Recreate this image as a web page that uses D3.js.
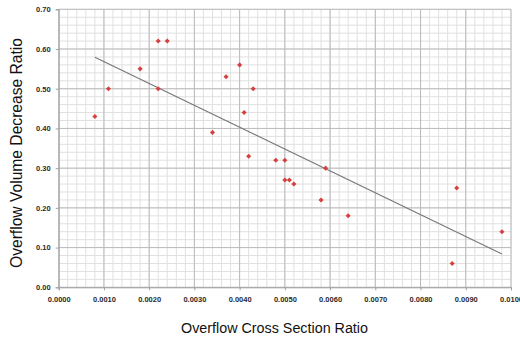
<!DOCTYPE html>
<html><head><meta charset="utf-8">
<script src="https://cdn.jsdelivr.net/npm/d3@7/dist/d3.min.js"></script>
<style>html,body{margin:0;padding:0;background:#fff;}svg{display:block;}</style>
</head><body>
<script>
const xValues = [0.0008,0.0011,0.0018,0.0022,0.0024,0.0022,0.0034,0.0037,0.0040,0.0043,0.0041,0.0042,0.0048,0.0050,0.0050,0.0051,0.0052,0.0059,0.0058,0.0064,0.0088,0.0087,0.0098];
const yValues = [0.43,0.50,0.55,0.62,0.62,0.50,0.39,0.53,0.56,0.50,0.44,0.33,0.32,0.32,0.27,0.27,0.26,0.30,0.22,0.18,0.25,0.06,0.14];
const trendX = [0.0008, 0.0098];
const trendY = [0.579, 0.084];
const xTicks = [0,0.001,0.002,0.003,0.004,0.005,0.006,0.007,0.008,0.009,0.010];
const yTicks = [0,0.1,0.2,0.3,0.4,0.5,0.6,0.7];
const xTitle = "Overflow Cross Section Ratio";
const yTitle = "Overflow Volume Decrease Ratio";

const W = 520, H = 339;
const svg = d3.select("body").append("svg").attr("width", W).attr("height", H);
const x = d3.scaleLinear().domain([0, 0.010]).range([58.7, 511]);
const y = d3.scaleLinear().domain([0, 0.70]).range([287.3, 9.3]);

const minorX = d3.range(0, 51).map(i => i * 0.0002);
const minorY = d3.range(0, 36).map(i => i * 0.02);
const g = svg.append("g");
g.selectAll(".mx").data(minorX).join("line")
  .attr("x1", d => x(d)).attr("x2", d => x(d)).attr("y1", y(0)).attr("y2", y(0.7))
  .attr("stroke", "#e0e0e0").attr("stroke-width", 1);
g.selectAll(".my").data(minorY).join("line")
  .attr("y1", d => y(d)).attr("y2", d => y(d)).attr("x1", x(0)).attr("x2", x(0.010))
  .attr("stroke", "#e0e0e0").attr("stroke-width", 1);
g.selectAll(".Mx").data(xTicks).join("line")
  .attr("x1", d => x(d)).attr("x2", d => x(d)).attr("y1", y(0)).attr("y2", y(0.7))
  .attr("stroke", "#bbbbbb").attr("stroke-width", 1);
g.selectAll(".My").data(yTicks).join("line")
  .attr("y1", d => y(d)).attr("y2", d => y(d)).attr("x1", x(0)).attr("x2", x(0.010))
  .attr("stroke", "#bbbbbb").attr("stroke-width", 1);

const xAxis = d3.axisBottom(x).tickValues(xTicks).tickFormat(d3.format(".4f")).tickSize(3).tickPadding(6);
const yAxis = d3.axisLeft(y).tickValues(yTicks).tickFormat(d3.format(".2f")).tickSize(3).tickPadding(5);
const gx = svg.append("g").attr("transform", `translate(0,${y(0)})`).call(xAxis);
const gy = svg.append("g").attr("transform", `translate(${x(0)},0)`).call(yAxis);
[gx, gy].forEach(a => {
  a.select(".domain").attr("stroke", "#a0a0a0");
  a.selectAll(".tick line").attr("stroke", "#a0a0a0");
  a.selectAll(".tick text").attr("fill", "#2a2a2a").attr("font-family", "Liberation Sans, Arial, sans-serif")
    .attr("font-size", "7.5px").attr("font-weight", "bold");
});
gx.selectAll(".tick text").attr("dy", "0.71em");

svg.append("line")
  .attr("x1", x(trendX[0])).attr("y1", y(trendY[0]))
  .attr("x2", x(trendX[1])).attr("y2", y(trendY[1]))
  .attr("stroke", "#777").attr("stroke-width", 1.1);

const pts = xValues.map((v, i) => [v, yValues[i]]);
svg.append("g").selectAll("path").data(pts).join("path")
  .attr("d", d3.symbol().type(d3.symbolSquare).size(13))
  .attr("transform", d => `translate(${x(d[0])},${y(d[1])}) rotate(45)`)
  .attr("fill", "#d6403f");

svg.append("text").text(xTitle)
  .attr("x", 274.5).attr("y", 333).attr("text-anchor", "middle")
  .attr("font-family", "Liberation Sans, Arial, sans-serif").attr("font-size", "15.5px")
  .attr("fill", "#111").attr("textLength", 187).attr("lengthAdjust", "spacingAndGlyphs");
svg.append("text").text(yTitle)
  .attr("transform", "translate(22,153) rotate(-90)").attr("text-anchor", "middle")
  .attr("font-family", "Liberation Sans, Arial, sans-serif").attr("font-size", "17px")
  .attr("fill", "#111").attr("textLength", 230).attr("lengthAdjust", "spacingAndGlyphs");
</script>
</body></html>
